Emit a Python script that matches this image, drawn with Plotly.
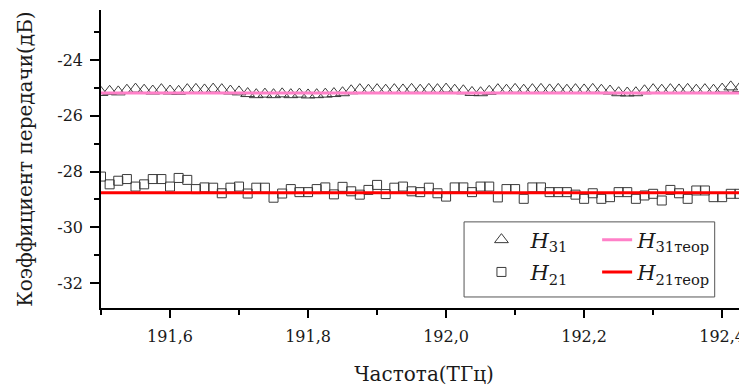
import plotly.graph_objects as go

# ---- data ----
freq_thz = [
    191.5, 191.5125, 191.525, 191.5375, 191.55, 191.5625, 191.575, 191.5875,
    191.6, 191.6125, 191.625, 191.6375, 191.65, 191.6625, 191.675, 191.6875,
    191.7, 191.7125, 191.725, 191.7375, 191.75, 191.7625, 191.775, 191.7875,
    191.8, 191.8125, 191.825, 191.8375, 191.85, 191.8625, 191.875, 191.8875,
    191.9, 191.9125, 191.925, 191.9375, 191.95, 191.9625, 191.975, 191.9875,
    192.0, 192.0125, 192.025, 192.0375, 192.05, 192.0625, 192.075, 192.0875,
    192.1, 192.1125, 192.125, 192.1375, 192.15, 192.1625, 192.175, 192.1875,
    192.2, 192.2125, 192.225, 192.2375, 192.25, 192.2625, 192.275, 192.2875,
    192.3, 192.3125, 192.325, 192.3375, 192.35, 192.3625, 192.375, 192.3875,
    192.4, 192.4125, 192.425, 192.4375,
]

h31_measured = [
    -25.16, -25.12, -25.14, -25.08, -25.04, -25.08, -25.11, -25.06,
    -25.11, -25.12, -25.06, -25.05, -25.07, -25.04, -25.06, -25.11,
    -25.14, -25.20, -25.24, -25.22, -25.24, -25.21, -25.24, -25.22,
    -25.25, -25.24, -25.22, -25.20, -25.17, -25.10, -25.06, -25.08,
    -25.06, -25.08, -25.06, -25.07, -25.05, -25.08, -25.05, -25.06,
    -25.04, -25.08, -25.10, -25.16, -25.17, -25.12, -25.06, -25.08,
    -25.05, -25.08, -25.06, -25.05, -25.07, -25.05, -25.08, -25.06,
    -25.07, -25.05, -25.08, -25.11, -25.17, -25.18, -25.17, -25.10,
    -25.06, -25.08, -25.06, -25.07, -25.05, -25.08, -25.06, -25.08,
    -25.04, -24.96, -25.02, -24.98,
]

h21_measured = [
    -28.18, -28.46, -28.33, -28.27, -28.54, -28.46, -28.27, -28.27,
    -28.54, -28.23, -28.30, -28.63, -28.57, -28.58, -28.78, -28.58,
    -28.54, -28.79, -28.58, -28.58, -28.94, -28.79, -28.63, -28.74,
    -28.74, -28.63, -28.57, -28.82, -28.55, -28.71, -28.83, -28.66,
    -28.48, -28.81, -28.58, -28.54, -28.71, -28.74, -28.58, -28.78,
    -28.90, -28.57, -28.57, -28.74, -28.54, -28.54, -28.93, -28.63,
    -28.63, -28.98, -28.57, -28.57, -28.74, -28.74, -28.74, -28.83,
    -28.98, -28.78, -28.98, -28.92, -28.74, -28.74, -28.98, -28.86,
    -28.80, -29.04, -28.66, -28.78, -28.98, -28.68, -28.68, -28.92,
    -28.92, -28.80, -28.80, -29.04,
]

theory_freq = [191.5, 192.45]
h31_theory = [-25.18, -25.18]
h21_theory = [-28.76, -28.76]

x_tickvals = [191.6, 191.8, 192.0, 192.2, 192.4]
x_ticktext = ["191,6", "191,8", "192,0", "192,2", "192,4"]
y_tickvals = [-32, -30, -28, -26, -24]
y_ticktext = ["-32", "-30", "-28", "-26", "-24"]

FONT = "DejaVu Serif"
TXT = "#1a1a1a"

fig = go.Figure()

fig.add_trace(go.Scatter(
    x=freq_thz, y=h31_measured, mode="markers",
    name="<i>H</i><sub>31</sub>",
    marker=dict(symbol="triangle-up-open", size=12, color="#3a3a3a", line=dict(width=1)),
    legend="legend", legendgroup="a",
))
fig.add_trace(go.Scatter(
    x=freq_thz, y=h21_measured, mode="markers",
    name="<i>H</i><sub>21</sub>",
    marker=dict(symbol="square-open", size=9, color="#3a3a3a", line=dict(width=1)),
    legend="legend", legendgroup="b",
))
fig.add_trace(go.Scatter(
    x=theory_freq, y=h31_theory, mode="lines",
    name="<i>H</i><sub>31теор</sub>",
    line=dict(color="#ff80c8", width=3),
    legend="legend2", legendgroup="c",
))
fig.add_trace(go.Scatter(
    x=theory_freq, y=h21_theory, mode="lines",
    name="<i>H</i><sub>21теор</sub>",
    line=dict(color="#ff0000", width=3),
    legend="legend2", legendgroup="d",
))

legend_common = dict(
    font=dict(family=FONT, size=21, color=TXT),
    bgcolor="rgba(0,0,0,0)",
    borderwidth=0,
    yanchor="top",
    xanchor="left",
    tracegroupgap=2,
    traceorder="grouped",
)

# The page body adds an 8px margin, so the figure is 8px smaller and
# its margins are shifted accordingly.
fig.update_layout(
    width=739, height=379,
    margin=dict(l=93, r=0, t=2, b=79, autoexpand=False),
    paper_bgcolor="white",
    plot_bgcolor="white",
    font=dict(family=FONT, size=16, color=TXT),
    showlegend=True,
    legend=dict(x=0.575, y=0.297, itemwidth=48, **legend_common),
    legend2=dict(x=0.768, y=0.297, **legend_common),
    xaxis=dict(
        range=[191.5, 192.436],
        tickvals=x_tickvals, ticktext=x_ticktext,
        ticks="outside", ticklen=8, tickwidth=1.5, tickcolor="black",
        ticklabelstandoff=5,
        showline=True, linecolor="black", linewidth=1.5,
        showgrid=False, zeroline=False,
        minor=dict(dtick=0.1, tick0=191.5, ticks="outside", ticklen=5,
                   tickwidth=1.5, tickcolor="black", showgrid=False),
        tickfont=dict(family=FONT, size=16, color=TXT),
        title=dict(text="Частота(ТГц)", font=dict(family=FONT, size=20, color=TXT),
                   standoff=22),
    ),
    yaxis=dict(
        range=[-32.9, -22.2],
        tickvals=y_tickvals, ticktext=y_ticktext,
        ticks="outside", ticklen=9, tickwidth=1.5, tickcolor="black",
        ticklabelstandoff=4,
        showline=True, linecolor="black", linewidth=1.5,
        showgrid=False, zeroline=False,
        minor=dict(dtick=1, tick0=-33, ticks="outside", ticklen=5,
                   tickwidth=1.5, tickcolor="black", showgrid=False),
        tickfont=dict(family=FONT, size=16, color=TXT),
        title=dict(text="Коэффициент передачи(дБ)",
                   font=dict(family=FONT, size=20, color=TXT), standoff=19),
    ),
    shapes=[dict(
        type="rect", xref="paper", yref="paper",
        x0=0.562, x1=0.950, y0=0.037, y1=0.289,
        line=dict(color="#555", width=1), fillcolor="rgba(0,0,0,0)",
    )],
)

fig.write_html("out.html")
